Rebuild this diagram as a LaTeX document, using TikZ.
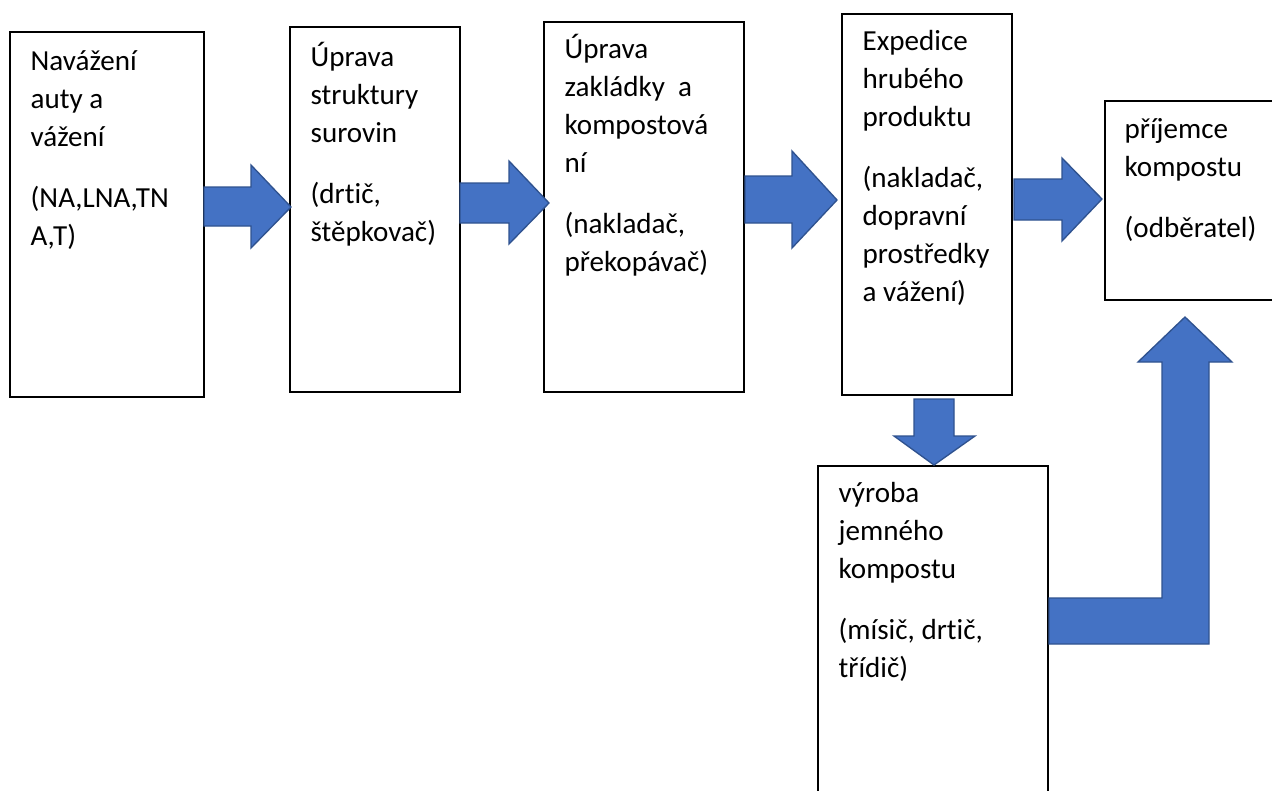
\documentclass[tikz,border=0pt]{standalone}
\usepackage{fontspec}
\setmainfont{Carlito}[Ligatures=NoCommon]
\usetikzlibrary{fit,calc}
\definecolor{arrfill}{HTML}{4472C4}
\definecolor{arrline}{HTML}{2F528F}
\begin{document}
\begin{tikzpicture}[x=0.75pt,y=-0.75pt,
  box/.style={draw=black,line width=0.9pt,inner sep=0pt},
  lbl/.style={inner sep=0pt,anchor=base west,font=\fontsize{21.8}{28.5}\selectfont},
  blockarrow/.style={fill=arrfill,draw=arrline,line width=1pt,line join=miter}]
\clip (0,0) rectangle (1272,790);
\fill[white] (0,0) rectangle (1272,790);
% boxes
\node[box,fit={(10,32) (204,397)}] (b1) {};
\node[box,fit={(290,27) (460,392)}] (b2) {};
\node[box,fit={(544,22) (744,392)}] (b3) {};
\node[box,fit={(842,14) (1012,395)}] (b4) {};
\node[box,fit={(1105,101) (1290,300)}] (b5) {};
\node[box,fit={(818,466) (1048,810)}] (b6) {};
% texts
\node[lbl] (t1) at ($(b1.north west)+(21,39)$) {\parbox[t]{300pt}{Navážení\\auty a\\vážení\\[17pt](NA,LNA,TN\\A,T)}};
\node[lbl] (t2) at ($(b2.north west)+(21,40)$) {\parbox[t]{300pt}{Úprava\\struktury\\surovin\\[17pt](drtič,\\štěpkovač)}};
\node[lbl] (t3) at ($(b3.north west)+(21,37)$) {\parbox[t]{300pt}{Úprava\\zakládky~ a\\kompostová\\ní\\[17pt](nakladač,\\překopávač)}};
\node[lbl] (t4) at ($(b4.north west)+(21,37)$) {\parbox[t]{300pt}{Expedice\\hrubého\\produktu\\[17pt](nakladač,\\dopravní\\prostředky\\a vážení)}};
\node[lbl] (t5) at ($(b5.north west)+(20,38)$) {\parbox[t]{300pt}{příjemce\\kompostu\\[17pt](odběratel)}};
\node[lbl] (t6) at ($(b6.north west)+(21,37)$) {\parbox[t]{300pt}{výroba\\jemného\\kompostu\\[17pt](mísič, drtič,\\třídič)}};
% block arrows
\draw[blockarrow] (204,187) -- (251,187) -- (251,165) -- (291,207) -- (251,248) -- (251,226) -- (204,226) -- cycle;
\draw[blockarrow] (460,183) -- (509,183) -- (509,161) -- (549,203) -- (509,244) -- (509,223) -- (460,223) -- cycle;
\draw[blockarrow] (745,176) -- (792,176) -- (792,151) -- (837,200) -- (792,248) -- (792,223) -- (745,223) -- cycle;
\draw[blockarrow] (1014,179) -- (1062,179) -- (1062,158) -- (1102,199) -- (1062,241) -- (1062,220) -- (1014,220) -- cycle;
\draw[blockarrow] (914,399) -- (954,399) -- (954,436) -- (975,436) -- (934,465) -- (894,436) -- (914,436) -- cycle;
\draw[blockarrow] (1049,598) -- (1162,598) -- (1162,362) -- (1138,362) -- (1185,317) -- (1232,362) -- (1209,362) -- (1209,644) -- (1049,644) -- cycle;
\end{tikzpicture}
\end{document}
